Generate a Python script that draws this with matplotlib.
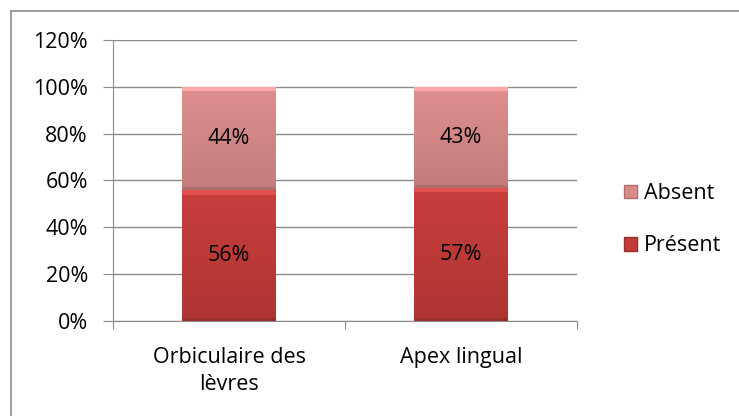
import numpy as np
import matplotlib.pyplot as plt
from matplotlib.patches import Rectangle, Patch

categories = ["Orbiculaire des\nlèvres", "Apex lingual"]
present = [0.56, 0.57]
absent = [0.44, 0.43]
yticks = [0, 0.2, 0.4, 0.6, 0.8, 1.0, 1.2]

plt.rcParams['font.family'] = ['Open Sans', 'DejaVu Sans']

c_present = (0.76, 0.23, 0.22)
c_absent = (0.85, 0.54, 0.54)
FS = 15.5


def shade(ax, bars, color):
    # soft vertical gradient + bevel look, clipped to each bar
    for b in bars:
        x0, y0 = b.get_x(), b.get_y()
        w, h = b.get_width(), b.get_height()
        grad = np.linspace(0, 1, 100).reshape(-1, 1)
        base = np.array(color)
        top = np.clip(base * 1.02 + 0.01, 0, 1)
        bot = base * 0.9
        img = bot + (top - bot) * grad[..., None]
        img = np.repeat(img, 2, axis=1)
        im = ax.imshow(img, extent=(x0, x0 + w, y0, y0 + h), origin='lower',
                       aspect='auto', zorder=3, interpolation='bilinear')
        im.set_clip_path(b)
        ax.add_patch(Rectangle((x0, y0 + h - 0.02), w, 0.02,
                               color=np.clip(base * 1.1 + 0.06, 0, 1), zorder=4, lw=0))
        ax.add_patch(Rectangle((x0, y0), w, 0.012, color=base * 0.8, zorder=4, lw=0))


fig = plt.figure(figsize=(7.39, 4.16), dpi=100)
ax = fig.add_axes([0.1529, 0.2284, 0.628, 0.6755])

x = np.arange(len(categories))
width = 0.405
b1 = ax.bar(x, present, width, color=c_present, zorder=2, edgecolor='none')
b2 = ax.bar(x, absent, width, bottom=present, color=c_absent, zorder=2, edgecolor='none')
shade(ax, b1, c_present)
shade(ax, b2, c_absent)

for i in range(len(categories)):
    ax.text(x[i], present[i] / 2, f"{present[i]:.0%}", ha='center', va='center',
            fontsize=FS, zorder=5)
    ax.text(x[i], present[i] + absent[i] / 2, f"{absent[i]:.0%}", ha='center',
            va='center', fontsize=FS, zorder=5)

ax.set_xlim(-0.5, len(categories) - 0.5)
ax.set_ylim(0, 1.2)
ax.set_yticks(yticks)
ax.set_yticklabels([f"{t:.0%}" for t in yticks], fontsize=FS)
ax.yaxis.grid(True, color='#8c8c8c', lw=1, zorder=0)
ax.set_axisbelow(True)

ax.set_xticks(np.arange(-0.5, len(categories)), labels=[])
ax.set_xticks(x, labels=categories, minor=True, fontsize=FS, linespacing=1.35)
ax.tick_params(axis='x', which='minor', length=0, pad=19)
ax.tick_params(axis='x', which='major', length=6, color='#8c8c8c')
ax.tick_params(axis='y', length=7, color='#8c8c8c', pad=11)

for s in ['top', 'right']:
    ax.spines[s].set_visible(False)
for s in ['left', 'bottom']:
    ax.spines[s].set_color('#8c8c8c')

handles = [Patch(facecolor=c_absent, edgecolor=np.array(c_absent) * 0.8, label='Absent'),
           Patch(facecolor=c_present, edgecolor=np.array(c_present) * 0.8, label='Présent')]
fig.legend(handles=handles, loc='center left', bbox_to_anchor=(0.83, 0.472),
           frameon=False, fontsize=FS, handlelength=0.6, handleheight=0.6,
           handletextpad=0.3, labelspacing=1.45, borderpad=0)

fig.add_artist(Rectangle((11 / 739, -0.1), 1.1, (416 - 11) / 416 + 0.1,
                         transform=fig.transFigure, fill=False,
                         edgecolor='#8c8c8c', lw=1.2))

fig.savefig("out.png", dpi=100)
